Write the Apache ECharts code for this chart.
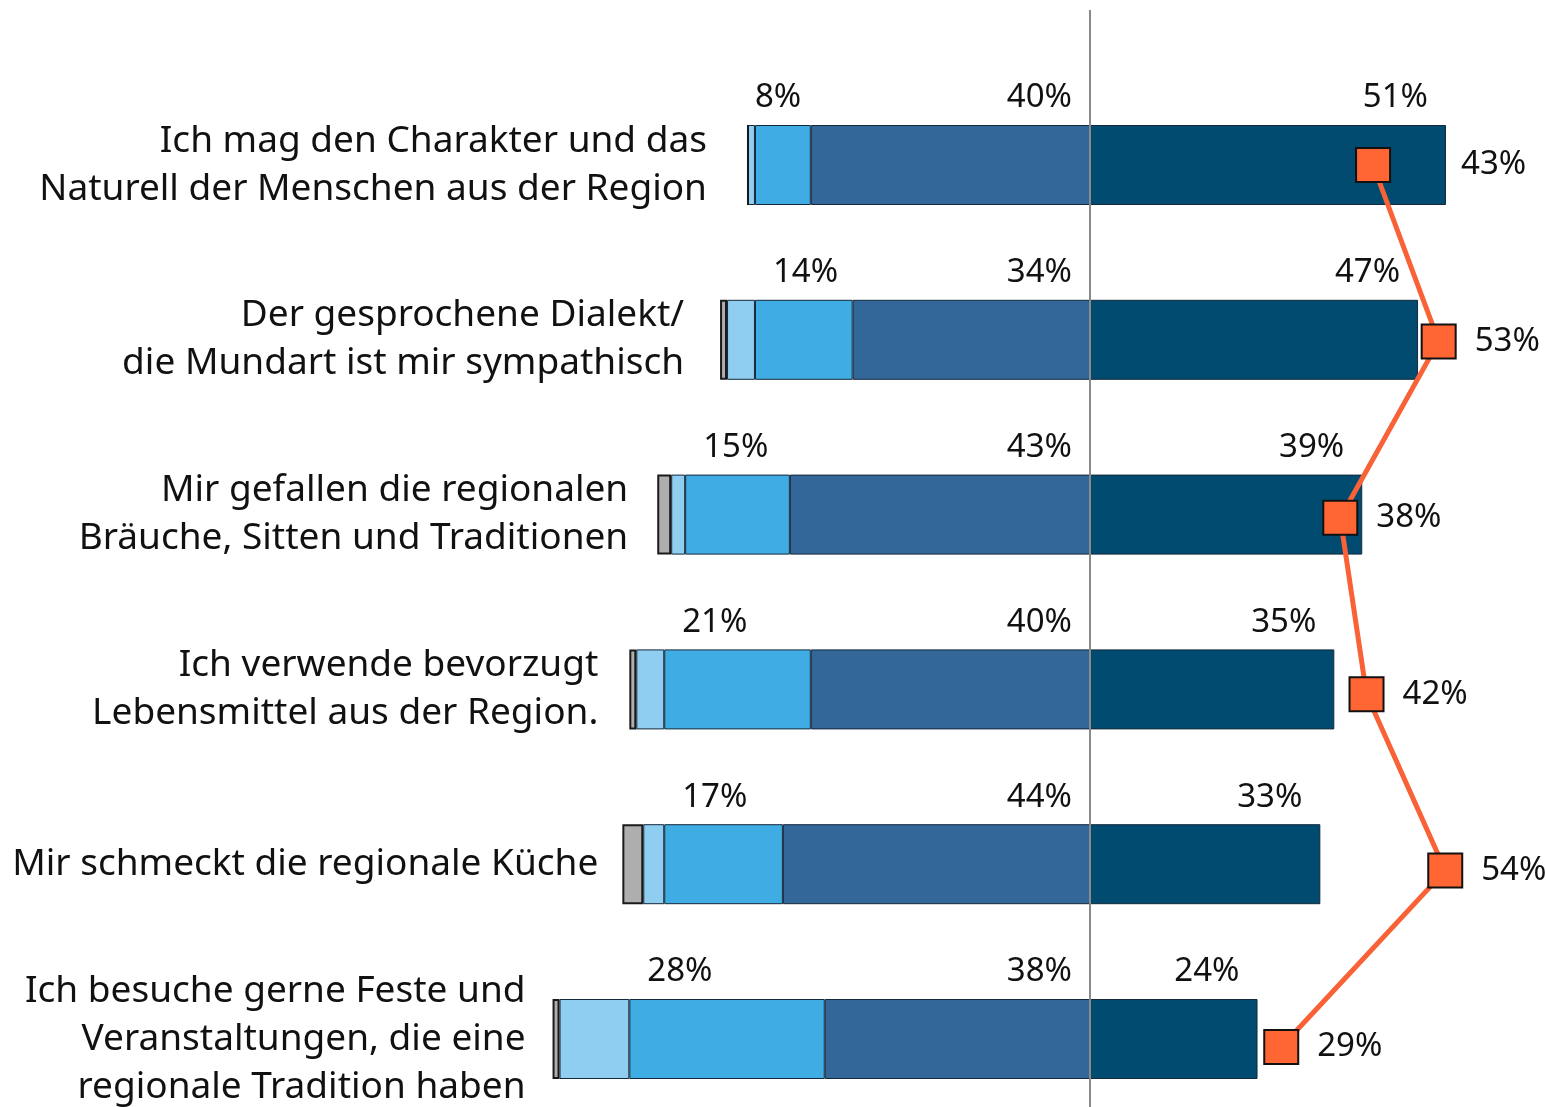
<!DOCTYPE html>
<html>
<head>
<meta charset="utf-8">
<script src="https://cdn.jsdelivr.net/npm/echarts@6/dist/echarts.min.js"></script>
<style>
  html, body { margin: 0; padding: 0; background: #fff; }
  #chart { width: 1546px; height: 1107px; }
</style>
</head>
<body>
<div id="chart"></div>
<script>
// 데이터
let categories = [
  "Ich mag den Charakter und das\nNaturell der Menschen aus der Region",
  "Der gesprochene Dialekt/\ndie Mundart ist mir sympathisch",
  "Mir gefallen die regionalen\nBräuche, Sitten und Traditionen",
  "Ich verwende bevorzugt\nLebensmittel aus der Region.",
  "Mir schmeckt die regionale Küche",
  "Ich besuche gerne Feste und\nVeranstaltungen, die eine\nregionale Tradition haben",
];
let strongAgree = [51, 47, 39, 35, 33, 24];
let agree = [40, 34, 43, 40, 44, 38];
let partly = [8, 14, 15, 21, 17, 28];
let disagree = [1, 4, 2, 4, 3, 10];
let noAnswer = [0, 1, 2, 1, 3, 1];
let lineValues = [43, 53, 38, 42, 54, 29];

// 스타일
let labelGap = [41, 36, 29, 31, 24, 27];
let fontFamily = "'Noto Sans', 'Open Sans', sans-serif";
let textColor = "#111";
let border = { borderColor: "#14283a", borderWidth: 1 };

let leftTotals = agree.map(function (v, i) {
  return -(v + partly[i] + disagree[i] + noAnswer[i]);
});

let chart = echarts.init(document.getElementById("chart"));

let topLabel = {
  show: true,
  color: textColor,
  fontFamily: fontFamily,
  fontSize: 33,
  verticalAlign: "middle",
};

let option = {
  animation: false,
  grid: [
    { left: 392, width: 1116.8, top: 77.6, height: 1048.8, outerBoundsMode: "none" },
    { left: 435, width: 1049.6, top: 76.8, height: 1058.4, outerBoundsMode: "none" },
  ],
  xAxis: [
    { type: "value", gridIndex: 0, min: -100, max: 60, show: false },
    { type: "value", gridIndex: 1, min: -100, max: 60, show: false },
  ],
  yAxis: [
    { type: "category", gridIndex: 0, data: categories, inverse: true, show: false },
    { type: "category", gridIndex: 1, data: categories, inverse: true, show: false },
  ],
  series: [
    {
      name: "agree",
      type: "bar",
      stack: "s",
      barWidth: 80,
      data: agree.map(function (v) { return -v; }),
      itemStyle: Object.assign({ color: "#336699" }, border),
      label: Object.assign({}, topLabel, {
        position: ["100%", 0],
        align: "right",
        offset: [-18, -27],
        formatter: function (p) { return Math.abs(p.value) + "%"; },
      }),
    },
    {
      name: "partly",
      type: "bar",
      stack: "s",
      data: partly.map(function (v, i) {
        let item = { value: -v };
        if (i == 0) item.label = { offset: [0, -27] };
        return item;
      }),
      itemStyle: Object.assign({ color: "#3FADE3" }, border),
      label: Object.assign({}, topLabel, {
        position: [0, 0],
        align: "left",
        offset: [18, -27],
        formatter: function (p) { return Math.abs(p.value) + "%"; },
      }),
    },
    {
      name: "disagree",
      type: "bar",
      stack: "s",
      data: disagree.map(function (v) { return -v; }),
      itemStyle: Object.assign({ color: "#8FCEF0" }, border),
    },
    {
      name: "noAnswer",
      type: "bar",
      stack: "s",
      data: noAnswer.map(function (v) { return -v; }),
      itemStyle: { color: "#AEAEAE", borderColor: "#1a1a1a", borderWidth: 2 },
    },
    {
      name: "strongAgree",
      type: "bar",
      stack: "s",
      data: strongAgree,
      itemStyle: Object.assign({ color: "#004B6F" }, border),
      label: Object.assign({}, topLabel, {
        position: ["100%", 0],
        align: "right",
        offset: [-18, -27],
        formatter: "{c}%",
      }),
    },
    {
      // 항목 텍스트
      name: "categoryText",
      type: "custom",
      xAxisIndex: 0,
      yAxisIndex: 0,
      data: leftTotals.map(function (v, i) { return [v, i]; }),
      encode: { x: 0, y: 1 },
      renderItem: function (params, api) {
        let idx = params.dataIndex;
        let pt = api.coord([api.value(0), api.value(1)]);
        return {
          type: "text",
          x: pt[0] - labelGap[idx],
          y: pt[1],
          style: {
            text: categories[idx],
            align: "right",
            verticalAlign: "middle",
            fontFamily: fontFamily,
            fontSize: 37,
            lineHeight: 48,
            fill: textColor,
          },
        };
      },
      z: 5,
    },
    {
      name: "line",
      type: "line",
      xAxisIndex: 1,
      yAxisIndex: 1,
      data: lineValues.map(function (v, i) {
        let item = { value: v };
        if (i == 0) item.label = { distance: 70 };
        return item;
      }),
      symbol: "rect",
      symbolSize: 34,
      lineStyle: { color: "#F86236", width: 5 },
      itemStyle: { color: "#FF6633", borderColor: "#111", borderWidth: 2 },
      label: {
        show: true,
        position: "right",
        distance: 18,
        color: textColor,
        fontFamily: fontFamily,
        fontSize: 33,
        formatter: "{c}%",
      },
      z: 6,
    },
  ],
};
chart.setOption(option);

// 가운데 세로선
let x0 = chart.convertToPixel({ xAxisIndex: 0 }, 0);
chart.setOption({
  graphic: [
    {
      type: "line",
      shape: { x1: x0, y1: 10, x2: x0, y2: 1107 },
      style: { stroke: "#8a8a8a", lineWidth: 2 },
      z: 10,
    },
  ],
});
</script>
</body>
</html>
